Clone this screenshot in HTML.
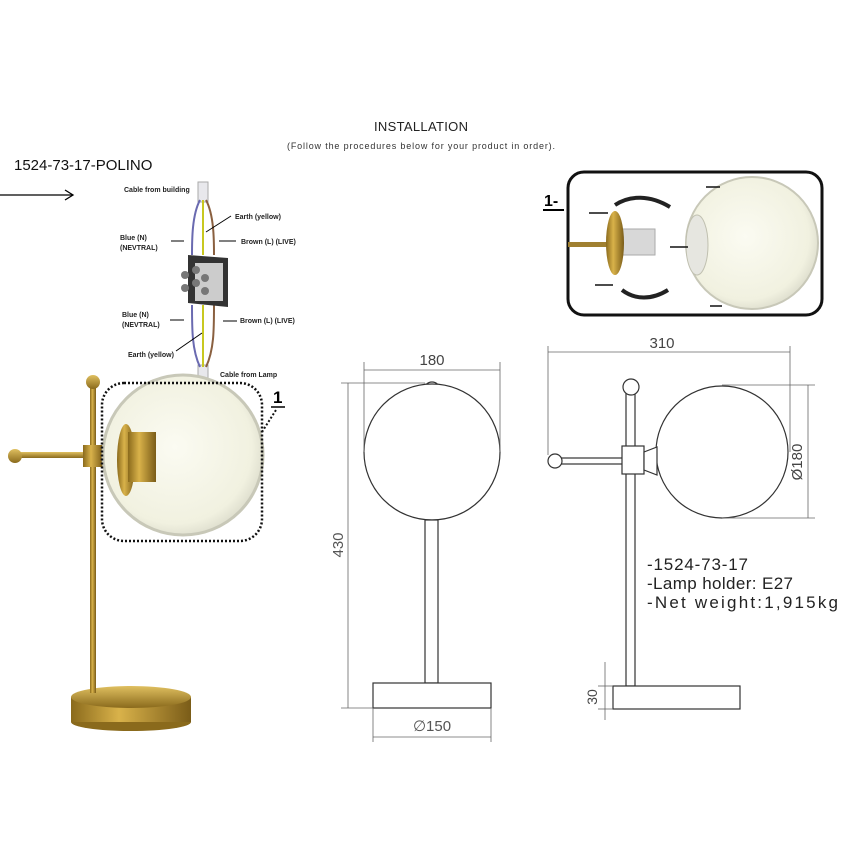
<!DOCTYPE html>
<html><head><meta charset="utf-8"><style>
html,body{margin:0;padding:0;background:#fff}
svg{display:block}
text{font-family:"Liberation Sans",sans-serif}
</style></head><body>
<svg width="852" height="852" viewBox="0 0 852 852" xmlns="http://www.w3.org/2000/svg">
<defs>
<radialGradient id="glass" cx="0.45" cy="0.45" r="0.6"><stop offset="0" stop-color="#fbfbf2"/><stop offset="0.8" stop-color="#f1f1e0"/><stop offset="1" stop-color="#d8d8c8"/></radialGradient>
<linearGradient id="brass" x1="0" y1="0" x2="1" y2="0"><stop offset="0" stop-color="#8a6a1c"/><stop offset="0.4" stop-color="#d9b24a"/><stop offset="1" stop-color="#7a5c18"/></linearGradient>
<linearGradient id="brassv" x1="0" y1="0" x2="0" y2="1"><stop offset="0" stop-color="#e0c060"/><stop offset="1" stop-color="#8a6a1c"/></linearGradient>
</defs>
<text x="374" y="131" font-size="13" fill="#222" textLength="94">INSTALLATION</text>
<text x="287" y="149" font-size="9" fill="#333" textLength="268">(Follow the procedures below for your product in order).</text>
<text x="14" y="170" font-size="15" fill="#111">1524-73-17-POLINO</text>
<line x1="0" y1="195" x2="72" y2="195" stroke="#000" stroke-width="1.3"/>
<path d="M65 190 L73 195 L65 200" fill="none" stroke="#000" stroke-width="1.3"/>

<!-- wiring -->
<rect x="198" y="182" width="10" height="20" fill="#e8e8ec" stroke="#aaa"/>
<rect x="198" y="365" width="10" height="16" fill="#e8e8ec" stroke="#aaa"/>
<path d="M200 200 C192 215,192 240,192 255" stroke="#6a6ab0" stroke-width="2" fill="none"/>
<path d="M203 200 L203 255" stroke="#c8c820" stroke-width="2" fill="none"/>
<path d="M206 200 C214 215,214 240,214 255" stroke="#8a6040" stroke-width="2" fill="none"/>
<path d="M192 305 C192 330,192 350,200 367" stroke="#6a6ab0" stroke-width="2" fill="none"/>
<path d="M203 305 L203 367" stroke="#c8c820" stroke-width="2" fill="none"/>
<path d="M214 305 C214 330,214 350,206 367" stroke="#8a6040" stroke-width="2" fill="none"/>
<polygon points="188,255 228,258 228,307 188,303" fill="#333"/>
<rect x="195" y="263" width="28" height="38" fill="#ccc"/>
<g fill="#777"><circle cx="185" cy="275" r="4"/><circle cx="185" cy="288" r="4"/><circle cx="196" cy="270" r="4"/><circle cx="196" cy="283" r="4"/><circle cx="205" cy="278" r="4"/><circle cx="205" cy="291" r="4"/></g>
<g font-size="7" font-weight="bold" fill="#222">
<text x="124" y="192">Cable from building</text>
<text x="235" y="219">Earth (yellow)</text>
<text x="120" y="240">Blue (N)</text><text x="120" y="250">(NEVTRAL)</text>
<text x="241" y="244">Brown (L) (LIVE)</text>
<text x="122" y="317">Blue (N)</text><text x="122" y="327">(NEVTRAL)</text>
<text x="240" y="323">Brown (L) (LIVE)</text>
<text x="128" y="357">Earth (yellow)</text>
<text x="220" y="377">Cable from Lamp</text>
</g>
<g stroke="#000" stroke-width="1" fill="none">
<line x1="206" y1="232" x2="231" y2="216"/><line x1="171" y1="241" x2="184" y2="241"/><line x1="219" y1="241" x2="236" y2="241"/>
<line x1="170" y1="320" x2="184" y2="320"/><line x1="223" y1="321" x2="237" y2="321"/><line x1="176" y1="351" x2="202" y2="333"/>
</g>

<!-- left lamp -->
<ellipse cx="131" cy="722" rx="60" ry="9" fill="#8a6a1c"/>
<rect x="71" y="697" width="120" height="25" fill="url(#brass)"/>
<ellipse cx="131" cy="697" rx="60" ry="11" fill="url(#brassv)"/>
<rect x="90" y="383" width="6" height="310" fill="url(#brass)"/>
<circle cx="93" cy="382" r="7" fill="url(#brassv)"/>
<rect x="15" y="452" width="75" height="6" fill="url(#brassv)"/>
<circle cx="15" cy="456" r="7" fill="url(#brassv)"/>
<rect x="83" y="445" width="20" height="22" fill="url(#brass)"/>
<rect x="100" y="452" width="22" height="6" fill="url(#brass)"/>
<circle cx="183" cy="455" r="80" fill="url(#glass)" stroke="#c8c8b8" stroke-width="3"/>
<ellipse cx="126" cy="460" rx="9" ry="36" fill="url(#brass)"/>
<rect x="128" y="432" width="28" height="50" fill="url(#brass)"/>
<rect x="102" y="383" width="160" height="158" rx="22" fill="none" stroke="#111" stroke-width="2.5" stroke-dasharray="2 2"/>
<line x1="262" y1="432" x2="276" y2="410" stroke="#111" stroke-width="2" stroke-dasharray="2 2"/>
<text x="273" y="403" font-size="17" font-weight="bold">1</text>
<line x1="271" y1="407" x2="285" y2="407" stroke="#000" stroke-width="1.5"/>

<!-- front view -->
<g stroke="#333" stroke-width="1.2" fill="#fff">
<circle cx="432" cy="390" r="8"/>
<circle cx="432" cy="452" r="68"/>
<rect x="425" y="520" width="13" height="163"/>
<rect x="373" y="683" width="118" height="25"/>
</g>
<g stroke="#666" stroke-width="0.8" fill="none">
<line x1="364" y1="370" x2="500" y2="370"/><line x1="364" y1="362" x2="364" y2="452"/><line x1="500" y1="362" x2="500" y2="452"/>
<line x1="341" y1="383" x2="425" y2="383"/><line x1="341" y1="708" x2="373" y2="708"/><line x1="348" y1="383" x2="348" y2="708"/>
<line x1="373" y1="708" x2="373" y2="742"/><line x1="491" y1="708" x2="491" y2="742"/><line x1="373" y1="737" x2="491" y2="737"/>
</g>
<text x="432" y="365" font-size="15" text-anchor="middle" fill="#444">180</text>
<text x="343" y="545" font-size="15" text-anchor="middle" fill="#555" transform="rotate(-90 343 545)">430</text>
<text x="432" y="731" font-size="15" text-anchor="middle" fill="#555">∅150</text>

<!-- side view -->
<g stroke="#333" stroke-width="1.2" fill="#fff">
<circle cx="722" cy="452" r="66"/>
<rect x="626" y="390" width="9" height="296"/>
<circle cx="631" cy="387" r="8"/>
<rect x="560" y="458" width="66" height="6"/>
<circle cx="555" cy="461" r="7"/>
<rect x="622" y="446" width="22" height="28"/>
<path d="M644 452 L657 447 L657 475 L644 470Z"/>
<rect x="613" y="686" width="127" height="23"/>
</g>
<g stroke="#666" stroke-width="0.8" fill="none">
<line x1="548" y1="352" x2="790" y2="352"/><line x1="548" y1="346" x2="548" y2="455"/><line x1="790" y1="346" x2="790" y2="452"/>
<line x1="722" y1="385" x2="815" y2="385"/><line x1="722" y1="518" x2="815" y2="518"/><line x1="808" y1="385" x2="808" y2="518"/>
<line x1="598" y1="686" x2="613" y2="686"/><line x1="598" y1="709" x2="613" y2="709"/><line x1="605" y1="662" x2="605" y2="720"/>
</g>
<text x="662" y="348" font-size="15" text-anchor="middle" fill="#444">310</text>
<text x="802" y="462" font-size="15" text-anchor="middle" fill="#444" transform="rotate(-90 802 462)">Ø180</text>
<text x="597" y="697" font-size="14" text-anchor="middle" fill="#444" transform="rotate(-90 597 697)">30</text>
<g font-size="17" fill="#222">
<text x="647" y="570" textLength="101">-1524-73-17</text>
<text x="647" y="589" textLength="146">-Lamp holder: E27</text>
<text x="647" y="608" textLength="191">-Net weight:1,915kg</text>
</g>

<!-- box 1 -->
<rect x="568" y="172" width="254" height="143" rx="16" fill="#fff" stroke="#111" stroke-width="3"/>
<text x="544" y="206" font-size="16" font-weight="bold">1-</text>
<line x1="543" y1="210" x2="564" y2="210" stroke="#000" stroke-width="2"/>
<circle cx="752" cy="243" r="66" fill="url(#glass)" stroke="#c8c8b8" stroke-width="2"/>
<ellipse cx="697" cy="245" rx="11" ry="30" fill="#e6e6e0" stroke="#c0c0b0"/>
<rect x="568" y="242" width="40" height="5" fill="#a08030"/>
<rect x="615" y="229" width="40" height="26" fill="#d8d8d8" stroke="#aaa"/>
<ellipse cx="615" cy="243" rx="9" ry="32" fill="url(#brass)"/>
<g stroke="#111" stroke-width="1.5" fill="none">
<line x1="589" y1="213" x2="608" y2="213"/><line x1="595" y1="285" x2="613" y2="285"/>
<line x1="670" y1="247" x2="688" y2="247"/><line x1="706" y1="187" x2="720" y2="187"/><line x1="710" y1="306" x2="722" y2="306"/>
</g>
<path d="M615 205 C630 195,650 195,670 207" stroke="#222" stroke-width="4" fill="none"/>
<path d="M622 290 C635 300,652 300,668 290" stroke="#222" stroke-width="4" fill="none"/>
</svg>
</body></html>
